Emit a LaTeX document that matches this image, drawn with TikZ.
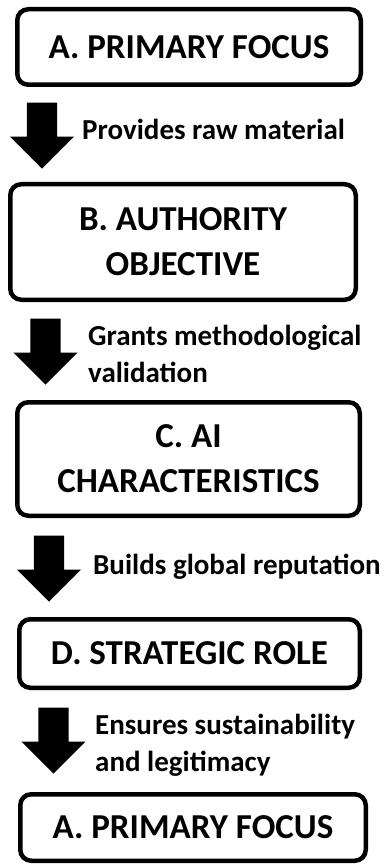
\documentclass[tikz,border=0pt]{standalone}
\usepackage{fontspec}
\setmainfont{Carlito}
\usetikzlibrary{shapes.arrows}
\tikzset{
	flow box/.style={draw, line width=4.5pt, rounded corners=11pt, align=center, inner sep=0pt,
		font=\fontsize{35}{45}\selectfont\bfseries},
	down arrow/.style={single arrow, fill=black, draw=none, shape border rotate=270,
		inner xsep=15pt, inner ysep=0pt, anchor=tip,
		minimum height=66pt, minimum width=64pt, single arrow head extend=17pt},
	link label/.style={anchor=west, align=left, inner sep=0pt,
		font=\fontsize{29}{37}\selectfont\bfseries}
}

\begin{document}
\begin{tikzpicture}[x=1pt, y=-1pt]
	\useasboundingbox (0,0) rectangle (386,866);
	% the cycle of boxes
	\node[flow box, minimum width=343.5pt, minimum height=75.5pt] (focus) at (189,47) {A. PRIMARY FOCUS};
	\node[flow box, minimum width=345.5pt, minimum height=115.5pt] (authority) at (183,242) {B. AUTHORITY\\OBJECTIVE};
	\node[flow box, minimum width=342.5pt, minimum height=113.5pt] (aichar) at (188.5,459) {C. AI\\CHARACTERISTICS};
	\node[flow box, minimum width=340.5pt, minimum height=68.5pt] (role) at (189.5,653.5) {D. STRATEGIC ROLE};
	\node[flow box, minimum width=345.5pt, minimum height=66.5pt] (focusb) at (193,827.5) {A. PRIMARY FOCUS};
	% block arrows in between, placed by their tips
	\node[down arrow] (arr1) at (42,169) {};
	\node[down arrow] (arr2) at (45.5,385) {};
	\node[down arrow] (arr3) at (49,602) {};
	\node[down arrow] (arr4) at (53.5,774) {};
	\node[link label] (lab1) at (82,129) {Provides raw material};
	\node[link label] (lab2) at (88,353.5) {Grants methodological\\validation};
	\node[link label] (lab3) at (93,567) {Builds global reputation};
	\node[link label] (lab4) at (95,745.5) {Ensures sustainability\\and legitimacy};
\end{tikzpicture}
\end{document}
